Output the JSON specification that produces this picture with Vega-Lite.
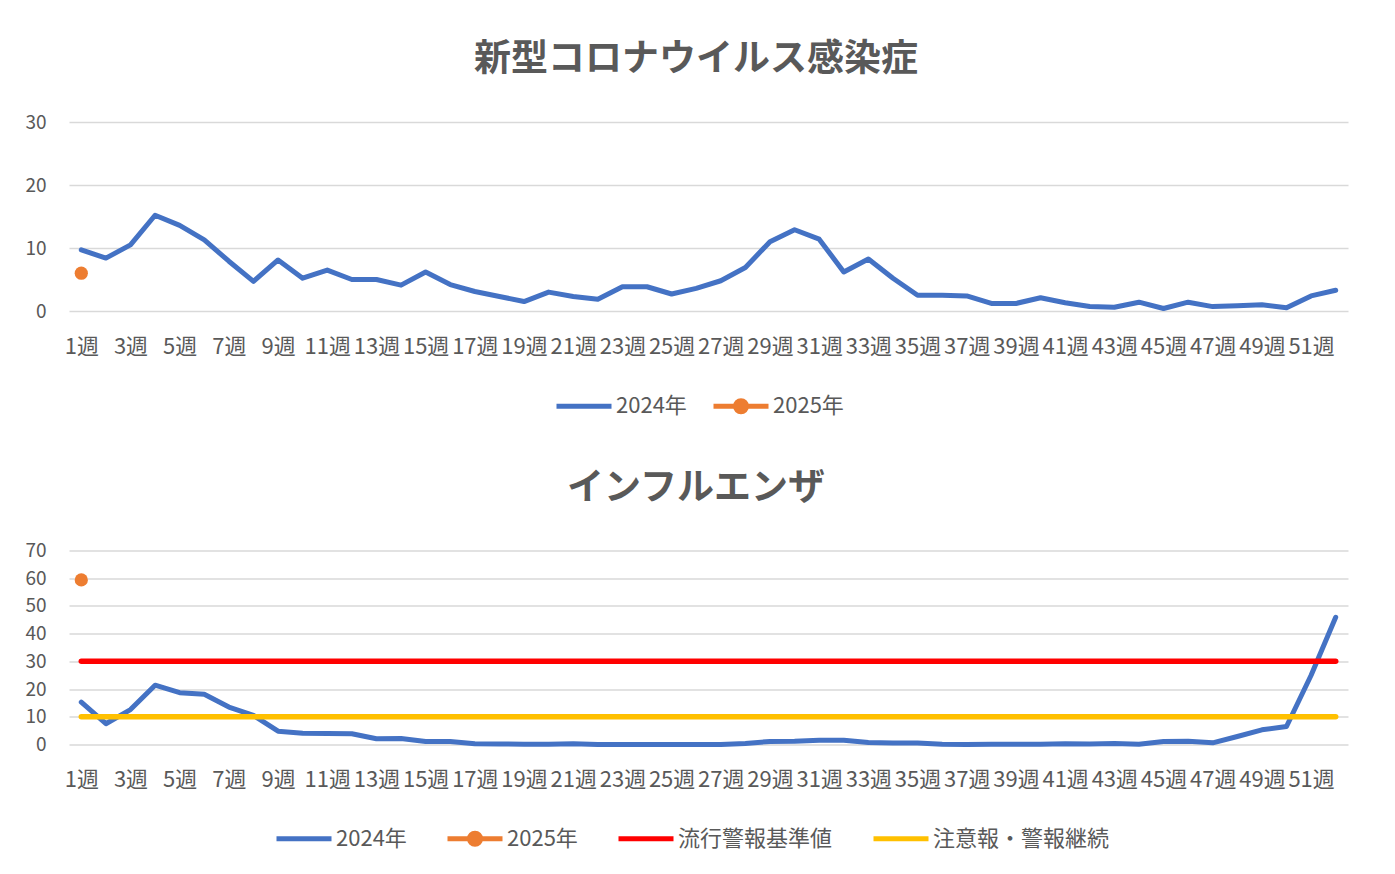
{
  "$schema": "https://vega.github.io/schema/vega-lite/v6.json",
  "background": "white",
  "padding": {"left": 24, "top": 41, "right": 10, "bottom": 5},
  "config": {
    "font": "Noto Sans CJK JP",
    "view": {"stroke": null},
    "axis": {"labelColor": "#595959", "labelFont": "Noto Sans CJK JP", "domain": false, "ticks": false, "gridColor": "#d9d9d9", "gridWidth": 1.3, "title": null},
    "legend": {"labelColor": "#595959", "labelFont": "Noto Sans CJK JP", "labelFontSize": 22, "labelOffset": 2, "labelLimit": 400, "symbolSize": 3025, "symbolStrokeWidth": 5, "title": null, "direction": "horizontal", "orient": "none"},
    "title": {"color": "#595959", "font": "Noto Sans CJK JP", "fontSize": 37, "fontWeight": "bold", "anchor": "middle", "frame": "group"}
  },
  "data": {"values": [
    {"chart": "corona", "series": "2024年", "week": 1, "value": 9.7},
    {"chart": "corona", "series": "2024年", "week": 2, "value": 8.4},
    {"chart": "corona", "series": "2024年", "week": 3, "value": 10.5},
    {"chart": "corona", "series": "2024年", "week": 4, "value": 15.2},
    {"chart": "corona", "series": "2024年", "week": 5, "value": 13.6},
    {"chart": "corona", "series": "2024年", "week": 6, "value": 11.3},
    {"chart": "corona", "series": "2024年", "week": 7, "value": 7.9},
    {"chart": "corona", "series": "2024年", "week": 8, "value": 4.7},
    {"chart": "corona", "series": "2024年", "week": 9, "value": 8.1},
    {"chart": "corona", "series": "2024年", "week": 10, "value": 5.2},
    {"chart": "corona", "series": "2024年", "week": 11, "value": 6.5},
    {"chart": "corona", "series": "2024年", "week": 12, "value": 5.0},
    {"chart": "corona", "series": "2024年", "week": 13, "value": 5.0},
    {"chart": "corona", "series": "2024年", "week": 14, "value": 4.1},
    {"chart": "corona", "series": "2024年", "week": 15, "value": 6.2},
    {"chart": "corona", "series": "2024年", "week": 16, "value": 4.2},
    {"chart": "corona", "series": "2024年", "week": 17, "value": 3.1},
    {"chart": "corona", "series": "2024年", "week": 18, "value": 2.3},
    {"chart": "corona", "series": "2024年", "week": 19, "value": 1.5},
    {"chart": "corona", "series": "2024年", "week": 20, "value": 3.0},
    {"chart": "corona", "series": "2024年", "week": 21, "value": 2.3},
    {"chart": "corona", "series": "2024年", "week": 22, "value": 1.85},
    {"chart": "corona", "series": "2024年", "week": 23, "value": 3.85},
    {"chart": "corona", "series": "2024年", "week": 24, "value": 3.85},
    {"chart": "corona", "series": "2024年", "week": 25, "value": 2.7},
    {"chart": "corona", "series": "2024年", "week": 26, "value": 3.6},
    {"chart": "corona", "series": "2024年", "week": 27, "value": 4.8},
    {"chart": "corona", "series": "2024年", "week": 28, "value": 6.9},
    {"chart": "corona", "series": "2024年", "week": 29, "value": 11.0},
    {"chart": "corona", "series": "2024年", "week": 30, "value": 12.9},
    {"chart": "corona", "series": "2024年", "week": 31, "value": 11.4},
    {"chart": "corona", "series": "2024年", "week": 32, "value": 6.2},
    {"chart": "corona", "series": "2024年", "week": 33, "value": 8.25},
    {"chart": "corona", "series": "2024年", "week": 34, "value": 5.2},
    {"chart": "corona", "series": "2024年", "week": 35, "value": 2.5},
    {"chart": "corona", "series": "2024年", "week": 36, "value": 2.5},
    {"chart": "corona", "series": "2024年", "week": 37, "value": 2.4},
    {"chart": "corona", "series": "2024年", "week": 38, "value": 1.2},
    {"chart": "corona", "series": "2024年", "week": 39, "value": 1.2},
    {"chart": "corona", "series": "2024年", "week": 40, "value": 2.1},
    {"chart": "corona", "series": "2024年", "week": 41, "value": 1.3},
    {"chart": "corona", "series": "2024年", "week": 42, "value": 0.7},
    {"chart": "corona", "series": "2024年", "week": 43, "value": 0.6},
    {"chart": "corona", "series": "2024年", "week": 44, "value": 1.4},
    {"chart": "corona", "series": "2024年", "week": 45, "value": 0.4},
    {"chart": "corona", "series": "2024年", "week": 46, "value": 1.4},
    {"chart": "corona", "series": "2024年", "week": 47, "value": 0.7},
    {"chart": "corona", "series": "2024年", "week": 48, "value": 0.85},
    {"chart": "corona", "series": "2024年", "week": 49, "value": 1.0},
    {"chart": "corona", "series": "2024年", "week": 50, "value": 0.5},
    {"chart": "corona", "series": "2024年", "week": 51, "value": 2.4},
    {"chart": "corona", "series": "2024年", "week": 52, "value": 3.3},
    {"chart": "corona", "series": "2025年", "week": 1, "value": 6.0},
    {"chart": "flu", "series": "2024年", "week": 1, "value": 15.3},
    {"chart": "flu", "series": "2024年", "week": 2, "value": 7.5},
    {"chart": "flu", "series": "2024年", "week": 3, "value": 12.6},
    {"chart": "flu", "series": "2024年", "week": 4, "value": 21.4},
    {"chart": "flu", "series": "2024年", "week": 5, "value": 18.7},
    {"chart": "flu", "series": "2024年", "week": 6, "value": 18.1},
    {"chart": "flu", "series": "2024年", "week": 7, "value": 13.5},
    {"chart": "flu", "series": "2024年", "week": 8, "value": 10.5},
    {"chart": "flu", "series": "2024年", "week": 9, "value": 4.8},
    {"chart": "flu", "series": "2024年", "week": 10, "value": 4.1},
    {"chart": "flu", "series": "2024年", "week": 11, "value": 4.0},
    {"chart": "flu", "series": "2024年", "week": 12, "value": 3.9},
    {"chart": "flu", "series": "2024年", "week": 13, "value": 2.1},
    {"chart": "flu", "series": "2024年", "week": 14, "value": 2.2},
    {"chart": "flu", "series": "2024年", "week": 15, "value": 1.1},
    {"chart": "flu", "series": "2024年", "week": 16, "value": 1.1},
    {"chart": "flu", "series": "2024年", "week": 17, "value": 0.3},
    {"chart": "flu", "series": "2024年", "week": 18, "value": 0.2},
    {"chart": "flu", "series": "2024年", "week": 19, "value": 0.1},
    {"chart": "flu", "series": "2024年", "week": 20, "value": 0.1},
    {"chart": "flu", "series": "2024年", "week": 21, "value": 0.3},
    {"chart": "flu", "series": "2024年", "week": 22, "value": 0.0},
    {"chart": "flu", "series": "2024年", "week": 23, "value": 0.0},
    {"chart": "flu", "series": "2024年", "week": 24, "value": 0.0},
    {"chart": "flu", "series": "2024年", "week": 25, "value": 0.0},
    {"chart": "flu", "series": "2024年", "week": 26, "value": 0.0},
    {"chart": "flu", "series": "2024年", "week": 27, "value": 0.0},
    {"chart": "flu", "series": "2024年", "week": 28, "value": 0.4},
    {"chart": "flu", "series": "2024年", "week": 29, "value": 1.1},
    {"chart": "flu", "series": "2024年", "week": 30, "value": 1.2},
    {"chart": "flu", "series": "2024年", "week": 31, "value": 1.5},
    {"chart": "flu", "series": "2024年", "week": 32, "value": 1.5},
    {"chart": "flu", "series": "2024年", "week": 33, "value": 0.7},
    {"chart": "flu", "series": "2024年", "week": 34, "value": 0.5},
    {"chart": "flu", "series": "2024年", "week": 35, "value": 0.5},
    {"chart": "flu", "series": "2024年", "week": 36, "value": 0.1},
    {"chart": "flu", "series": "2024年", "week": 37, "value": 0.0},
    {"chart": "flu", "series": "2024年", "week": 38, "value": 0.1},
    {"chart": "flu", "series": "2024年", "week": 39, "value": 0.1},
    {"chart": "flu", "series": "2024年", "week": 40, "value": 0.1},
    {"chart": "flu", "series": "2024年", "week": 41, "value": 0.3},
    {"chart": "flu", "series": "2024年", "week": 42, "value": 0.2},
    {"chart": "flu", "series": "2024年", "week": 43, "value": 0.4},
    {"chart": "flu", "series": "2024年", "week": 44, "value": 0.1},
    {"chart": "flu", "series": "2024年", "week": 45, "value": 1.1},
    {"chart": "flu", "series": "2024年", "week": 46, "value": 1.2},
    {"chart": "flu", "series": "2024年", "week": 47, "value": 0.6},
    {"chart": "flu", "series": "2024年", "week": 48, "value": 2.9},
    {"chart": "flu", "series": "2024年", "week": 49, "value": 5.3},
    {"chart": "flu", "series": "2024年", "week": 50, "value": 6.5},
    {"chart": "flu", "series": "2024年", "week": 51, "value": 25.0},
    {"chart": "flu", "series": "2024年", "week": 52, "value": 45.9},
    {"chart": "flu", "series": "2025年", "week": 1, "value": 59.4},
    {"chart": "flu", "series": "流行警報基準値", "week": 1, "value": 30},
    {"chart": "flu", "series": "流行警報基準値", "week": 52, "value": 30},
    {"chart": "flu", "series": "注意報・警報継続", "week": 1, "value": 10},
    {"chart": "flu", "series": "注意報・警報継続", "week": 52, "value": 10}
  ]},
  "spacing": 239.5,
  "bounds": "flush",
  "resolve": {"scale": {"color": "independent", "y": "independent"}, "legend": {"color": "independent"}},
  "vconcat": [
    {
      "title": {"text": "新型コロナウイルス感染症", "dx": -12.5, "offset": 34},
      "width": 1279,
      "height": 189,
      "transform": [{"filter": "datum.chart == 'corona'"}],
      "encoding": {
        "x": {"field": "week", "type": "ordinal", "axis": {"values": [1,3,5,7,9,11,13,15,17,19,21,23,25,27,29,31,33,35,37,39,41,43,45,47,49,51], "labelExpr": "datum.label + '週'", "labelAngle": 0, "labelFontSize": 22, "labelPadding": 25, "grid": false}},
        "y": {"field": "value", "type": "quantitative", "scale": {"domain": [0, 30]}, "axis": {"values": [0, 10, 20, 30], "labelFontSize": 19, "labelPadding": 23}},
        "color": {"field": "series", "type": "nominal", "scale": {"domain": ["2024年", "2025年"], "range": ["#4472C4", "#ED7D31"]},
          "legend": {"legendX": 485, "legendY": 254, "columnPadding": 16,
            "symbolType": {"expr": "datum.value == '2025年' ? 'M-1,0H1M-0.2,0A0.2,0.2 0 1,0 0.2,0A0.2,0.2 0 1,0 -0.2,0M-0.1,0A0.1,0.1 0 1,0 0.1,0A0.1,0.1 0 1,0 -0.1,0' : 'M-1,0H1M0,-0.2L0,-0.2M0,0.2L0,0.2'"}}}
      },
      "layer": [
        {"transform": [{"filter": "datum.series != '2025年'"}], "mark": {"type": "line", "strokeWidth": 5, "strokeCap": "round", "strokeJoin": "round"}},
        {"transform": [{"filter": "datum.series == '2025年'"}], "mark": {"type": "circle", "size": 175, "opacity": 1}}
      ]
    },
    {
      "title": {"text": "インフルエンザ", "dx": -12.5, "offset": 34},
      "width": 1279,
      "height": 194,
      "transform": [{"filter": "datum.chart == 'flu'"}],
      "encoding": {
        "x": {"field": "week", "type": "ordinal", "axis": {"values": [1,3,5,7,9,11,13,15,17,19,21,23,25,27,29,31,33,35,37,39,41,43,45,47,49,51], "labelExpr": "datum.label + '週'", "labelAngle": 0, "labelFontSize": 22, "labelPadding": 25, "grid": false}},
        "y": {"field": "value", "type": "quantitative", "scale": {"domain": [0, 70]}, "axis": {"values": [0, 10, 20, 30, 40, 50, 60, 70], "labelFontSize": 19, "labelPadding": 23}},
        "color": {"field": "series", "type": "nominal", "scale": {"domain": ["2024年", "2025年", "流行警報基準値", "注意報・警報継続"], "range": ["#4472C4", "#ED7D31", "#FF0000", "#FFC000"]},
          "legend": {"legendX": 205, "legendY": 258, "columnPadding": 30,
            "symbolType": {"expr": "datum.value == '2025年' ? 'M-1,0H1M-0.2,0A0.2,0.2 0 1,0 0.2,0A0.2,0.2 0 1,0 -0.2,0M-0.1,0A0.1,0.1 0 1,0 0.1,0A0.1,0.1 0 1,0 -0.1,0' : 'M-1,0H1M0,-0.2L0,-0.2M0,0.2L0,0.2'"}}}
      },
      "layer": [
        {"transform": [{"filter": "datum.series == '2024年'"}], "mark": {"type": "line", "strokeWidth": 5, "strokeCap": "round", "strokeJoin": "round"}},
        {"transform": [{"filter": "datum.series == '2025年'"}], "mark": {"type": "circle", "size": 175, "opacity": 1}},
        {"transform": [{"filter": "datum.series == '流行警報基準値' || datum.series == '注意報・警報継続'"}], "mark": {"type": "line", "strokeWidth": 5.5, "strokeCap": "round"}}
      ]
    }
  ]
}
